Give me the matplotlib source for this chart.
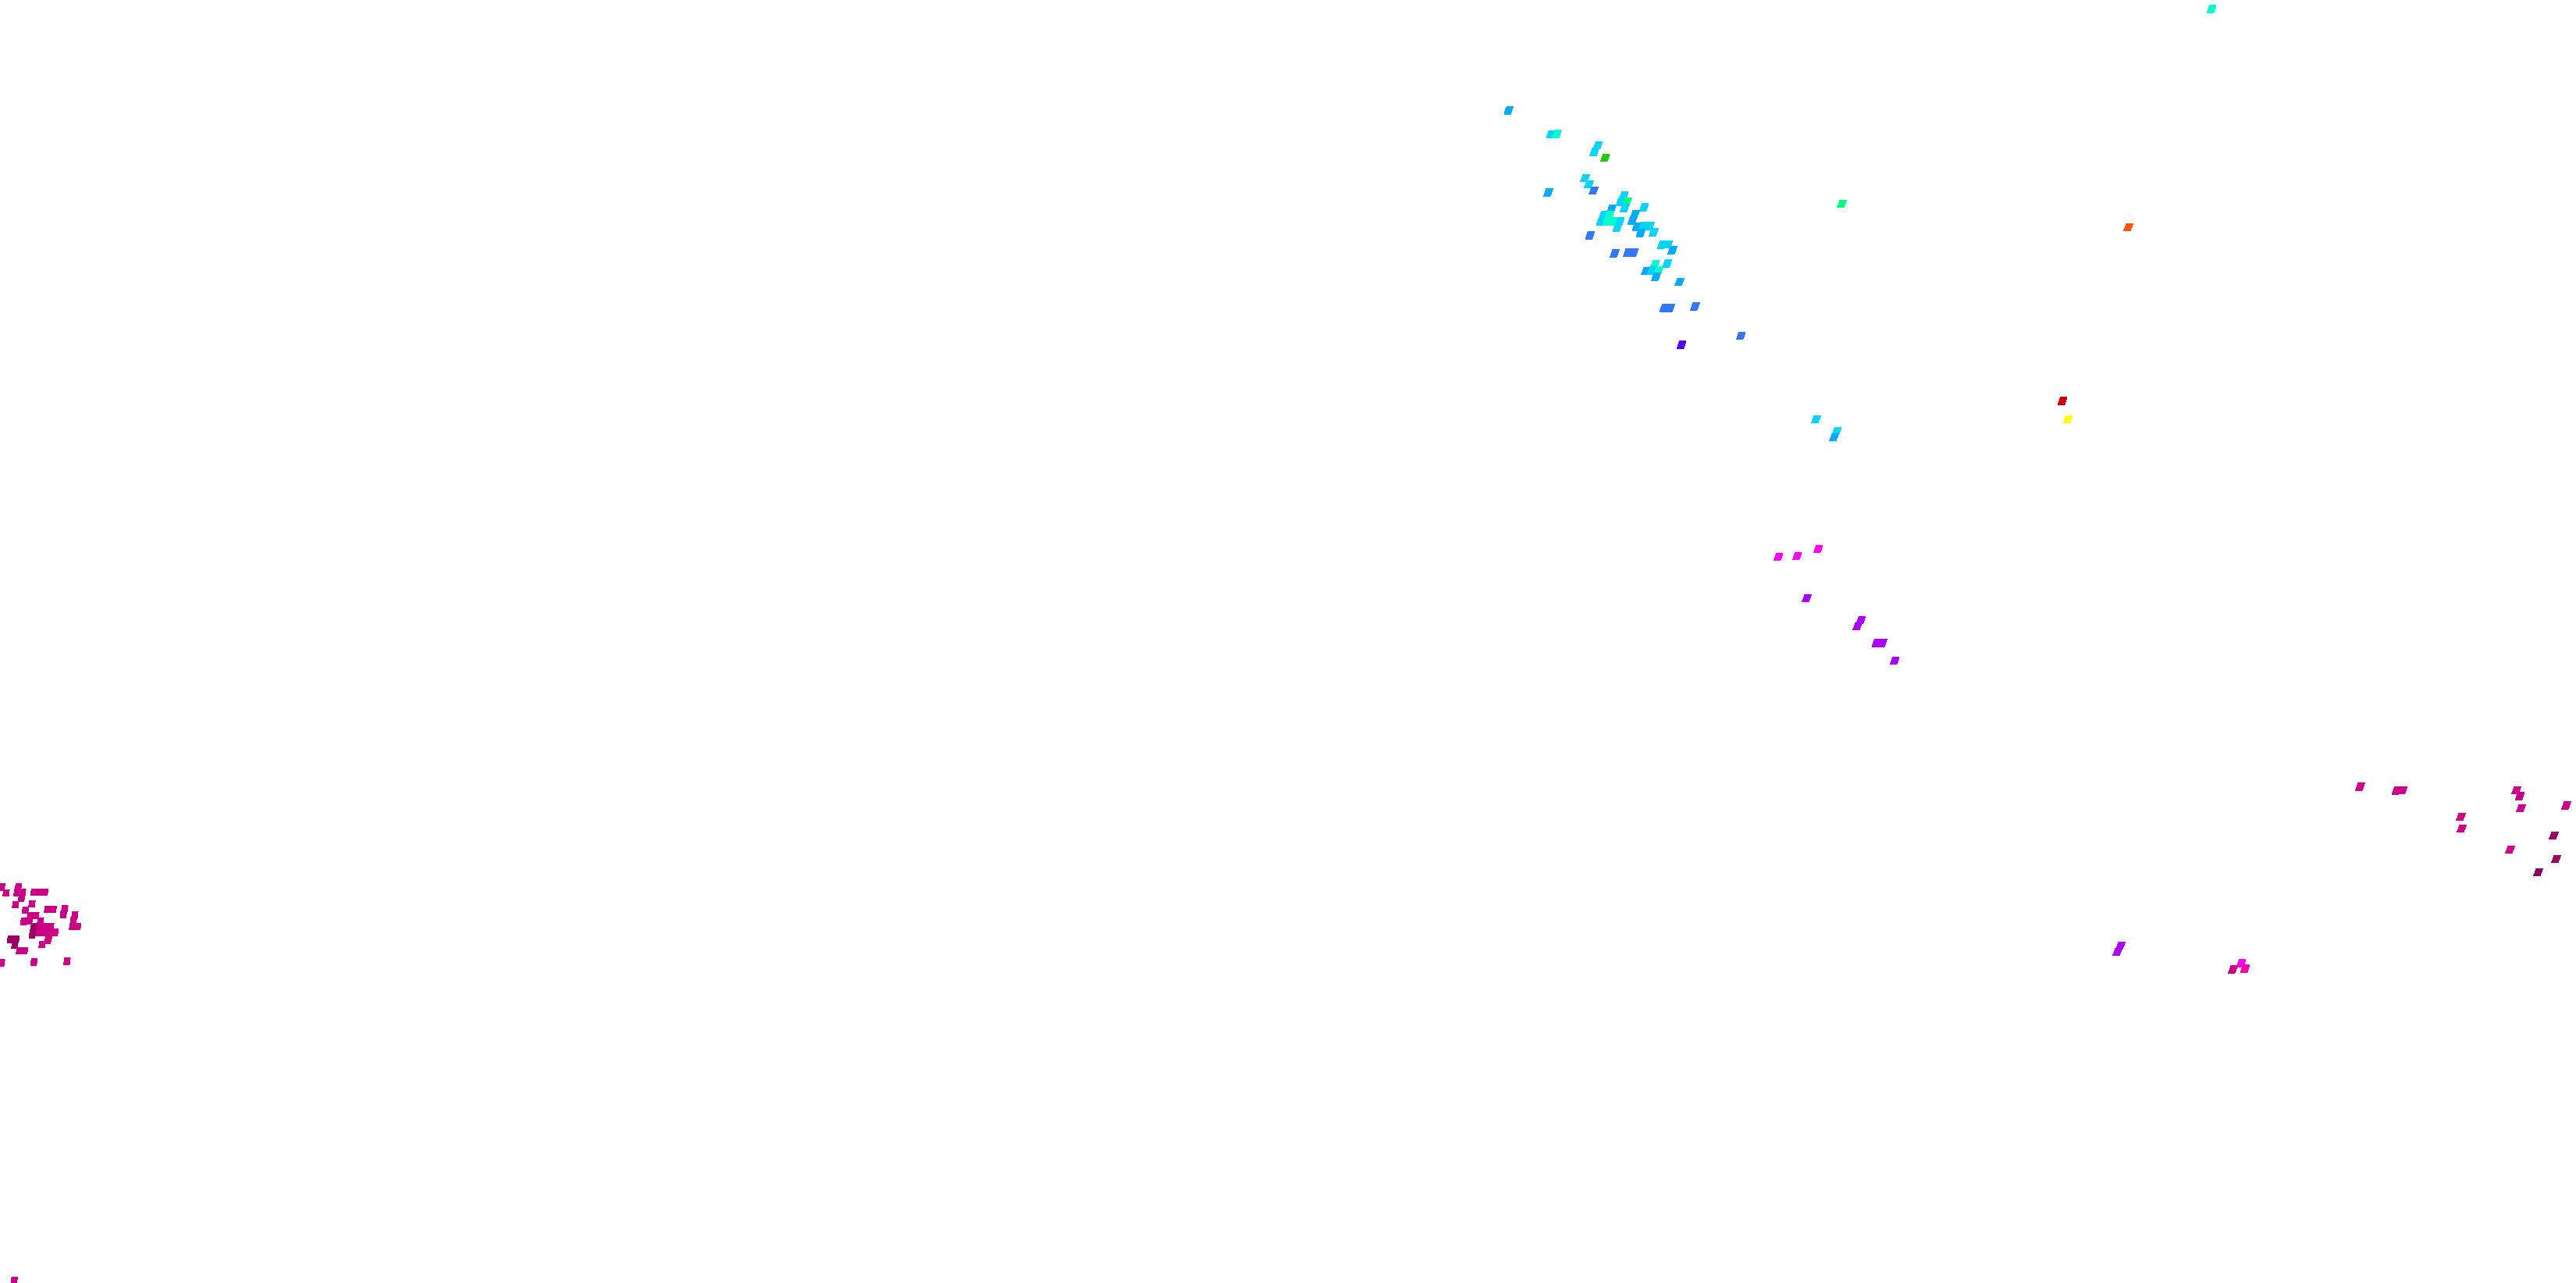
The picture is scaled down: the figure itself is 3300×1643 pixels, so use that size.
import matplotlib
matplotlib.use("Agg")
import matplotlib.pyplot as plt
from matplotlib.colors import ListedColormap

# Colour bins, low to high
level_colors = ["#cc0000", "#ff5500", "#ffff00", "#22cc00", "#00ff80", "#00ffcc",
                "#00d4ff", "#00aaff", "#3377ff", "#5500ff", "#aa00ff", "#ff00ff",
                "#ff00aa", "#cc0088", "#990066", "#880060"]

# Cells over most of the map
main_x = [1932.5, 1986.7, 1994.3, 2046.7, 2042.3, 2056, 2030.3, 2035.3, 2041.3, 1983.3,
          2080, 2076, 2084.3, 2081, 2064.3, 2106, 2054, 2050.7, 2061.7, 2059,
          2066.7, 2075, 2071.7, 2094.3, 2091, 2096.7, 2105, 2113.3, 2101.7, 2118.3,
          2036.7, 2129, 2136.7, 2142.3, 2068.3, 2085.3, 2092.7, 2135.7, 2120, 2108.3,
          2116.3, 2124.7, 2121.3, 2151.3, 2131.7, 2139.3, 2171.3, 2230, 2154,
          2278, 2302, 2329, 2314.3, 2383.7, 2379.3, 2403.7, 2411.3, 2427,
          3023.3, 3070, 3077.7, 3223.3, 3228, 3229.3, 3287.3, 3152.3, 3153.3, 3271.3,
          3215.3, 3274.3, 3251.3,
          2833, 2359.3, 2726.3, 2642, 2648.7, 2326.3, 2352.7, 2349.3,
          2716.3, 2712.3, 2871, 2860.3, 2876]
main_y = [141.3, 172, 171.7, 186, 194.7, 202, 228, 236, 244, 246.3,
          250, 258.3, 258, 266.7, 267.7, 265.3, 275.3, 283.7, 275, 283.3,
          283.3, 283.3, 291.7, 274, 282.3, 290.3, 289.7, 289.3, 298.3, 297.3,
          301.3, 313.3, 313, 320.3, 324.3, 323.7, 323.3, 337.3, 338, 347,
          346.7, 346, 354.3, 361, 394.7, 394.3, 392.3, 430, 441.3,
          713, 712, 703, 766, 794, 802, 823.7, 823.3, 846,
          1007.3, 1012.7, 1012, 1012, 1019.3, 1035, 1031.3, 1046, 1061, 1070,
          1088, 1100, 1117,
          11.3, 261, 291, 513.3, 537, 537, 552, 560,
          1211, 1219, 1233.7, 1241.3, 1240.7]
main_level = [7, 6, 5, 6, 6, 3, 6, 6, 8, 7,
              6, 6, 4, 6, 7, 6, 6, 6, 5, 5,
              5, 6, 6, 7, 7, 7, 6, 6, 7, 6,
              8, 6, 6, 7, 8, 8, 8, 6, 5, 7,
              6, 5, 7, 7, 8, 8, 8, 8, 9,
              11, 11, 11, 10, 10, 10, 10, 10, 10,
              13, 13, 13, 13, 13, 13, 13, 13, 13, 14,
              13, 14, 15,
              5, 4, 1, 0, 2, 6, 6, 7,
              10, 10, 11, 13, 12]

# Cluster at the left edge, cells are smaller and less slanted there
left_x = [2, 7.7, 23.3, 21.7, 28.7, 27.3, 43.3, 50.3, 57.3, 19.7,
          40.7, 60.7, 68, 82.7, 81, 32.3, 38.7, 45.7, 30.3, 37.3,
          51.7, 95.7, 94, 92.7, 99.3, 50.7, 57.7, 64.7, 50, 56.7,
          63.3, 70.3, 43.3, 42, 41.3, 62.3, 61.3, 53.7, 13.3, 20.3,
          18.7, 24.7, 31.3, 1.7, 43.3, 85.7, 18]
left_y = [1136, 1143.3, 1135.7, 1143, 1143, 1150.7, 1142.3, 1142.3, 1142.3, 1158.3,
          1157.7, 1164.3, 1164.3, 1164, 1171.3, 1165.3, 1172.3, 1172.3, 1180, 1179.3,
          1179.3, 1171.3, 1179, 1186.7, 1186.7, 1186.3, 1186.3, 1186.3, 1194, 1194,
          1194, 1194, 1187, 1194, 1197, 1200, 1204, 1209.7, 1203, 1203,
          1210.3, 1217.3, 1217.3, 1233, 1232, 1231, 1640]
left_level = [13, 13, 13, 13, 13, 13, 13, 13, 13, 13,
              13, 13, 13, 13, 13, 13, 13, 13, 13, 13,
              13, 13, 13, 13, 13, 13, 13, 13, 13, 13,
              13, 13, 14, 14, 14, 13, 13, 13, 14, 14,
              14, 13, 13, 13, 13, 13, 13]

cmap = ListedColormap(level_colors)
main_cell = [(-5.5, -4.4), (2.5, -4.4), (5.5, 4.4), (-2.5, 4.4)]
left_cell = [(-4, -3.8), (3, -3.8), (4, 3.8), (-3, 3.8)]

fig = plt.figure(figsize=(33, 16.43), dpi=100)
ax = fig.add_axes([0, 0, 1, 1])
ax.scatter(main_x, main_y, c=main_level, cmap=cmap, vmin=-0.5, vmax=15.5,
           marker=main_cell, s=62.7, linewidths=0.5, edgecolors="face", antialiased=False)
ax.scatter(left_x, left_y, c=left_level, cmap=cmap, vmin=-0.5, vmax=15.5,
           marker=left_cell, s=33.2, linewidths=0.5, edgecolors="face", antialiased=False)
ax.set_xlim(0, 3300)
ax.set_ylim(1643, 0)
ax.axis("off")
fig.savefig("out.png", dpi=100, facecolor="white")
